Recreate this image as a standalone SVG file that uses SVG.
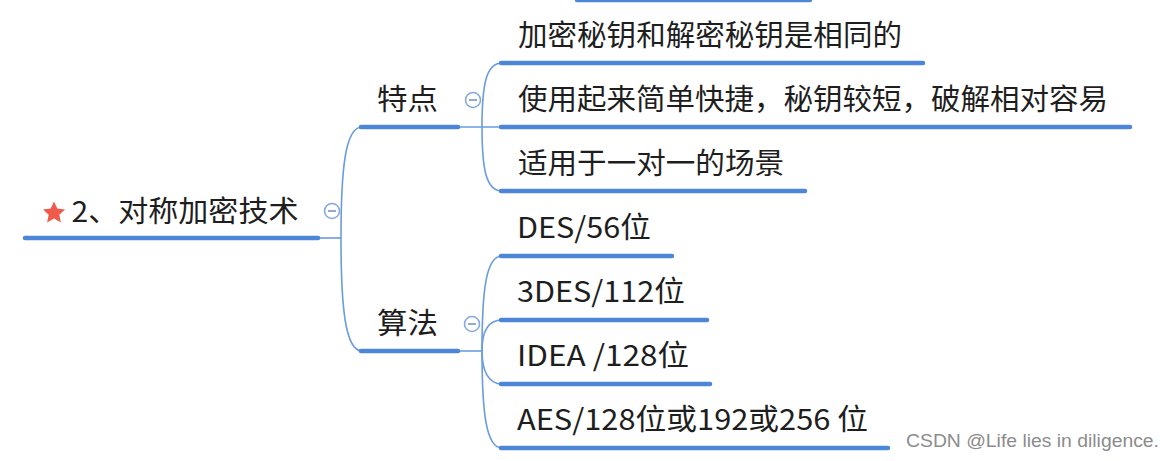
<svg xmlns="http://www.w3.org/2000/svg" width="1174" height="461" viewBox="0 0 1174 461">
  <style>
    .t { font-family: "Noto Sans CJK SC", "Noto Sans", sans-serif; font-size: 29px; fill: #1e1e1e; }
    .ul { stroke: #4d86d6; stroke-width: 4.5; stroke-linecap: round; fill: none; }
    .cn { stroke: #6b9be0; stroke-width: 1.6; fill: none; }
    .col circle { fill: #ffffff; stroke: #86a9e2; stroke-width: 1.6; }
    .col line { stroke: #8aa0c8; stroke-width: 1.8; }
    .wm { font-family: "Liberation Sans", Arial, sans-serif; font-size: 18px; fill: #8c8c8c; }
  </style>
  <rect width="1174" height="461" fill="#ffffff"/>

  <g id="connectors">
    <path class="cn" d="M318,238 L341,238"/>
    <path class="cn" d="M341,238 C341,170 345,127 362,127"/>
    <path class="cn" d="M341,238 C341,306 345,351 362,351"/>
    <path class="cn" d="M458,127 L502,127"/>
    <path class="cn" d="M482,127 C482,85 486,63 502,63"/>
    <path class="cn" d="M482,127 C482,169 486,191 502,191"/>
    <path class="cn" d="M458,351 L482,351"/>
    <path class="cn" d="M482,351 C482,290 486,256 502,256"/>
    <path class="cn" d="M482,351 C482,332 488,320 502,320"/>
    <path class="cn" d="M482,351 C482,370 488,384 502,384"/>
    <path class="cn" d="M482,351 C482,412 486,448 502,448"/>
  </g>

  <g id="prev-node">
    <line class="ul" x1="577" y1="0" x2="810" y2="0"/>
  </g>

  <g id="root">
    <polygon fill="#f05a4b" points="54,201.5 57.3,208.6 65,209.4 59.3,214.7 60.9,222.4 54,218.6 47.1,222.4 48.7,214.7 43,209.4 50.7,208.6"/>
    <text class="t" x="71.5" y="222" textLength="227" lengthAdjust="spacingAndGlyphs">2、对称加密技术</text>
    <line class="ul" x1="25" y1="238" x2="318" y2="238"/>
    <g class="col"><circle cx="332" cy="211" r="7.5"/><line x1="328" y1="211" x2="336" y2="211"/></g>
  </g>

  <g id="node-tedian">
    <text class="t" x="377" y="110" textLength="61" lengthAdjust="spacingAndGlyphs">特点</text>
    <line class="ul" x1="361" y1="127" x2="458" y2="127"/>
    <g class="col"><circle cx="473" cy="100" r="7.5"/><line x1="469" y1="100" x2="477" y2="100"/></g>
  </g>

  <g id="node-t1">
    <text class="t" x="518" y="46" textLength="384" lengthAdjust="spacingAndGlyphs">加密秘钥和解密秘钥是相同的</text>
    <line class="ul" x1="501" y1="63" x2="923" y2="63"/>
  </g>
  <g id="node-t2">
    <text class="t" x="518" y="110" textLength="590" lengthAdjust="spacingAndGlyphs">使用起来简单快捷，秘钥较短，破解相对容易</text>
    <line class="ul" x1="501" y1="127" x2="1130" y2="127"/>
  </g>
  <g id="node-t3">
    <text class="t" x="518" y="174" textLength="266" lengthAdjust="spacingAndGlyphs">适用于一对一的场景</text>
    <line class="ul" x1="501" y1="191" x2="805" y2="191"/>
  </g>

  <g id="node-suanfa">
    <text class="t" x="377" y="334" textLength="61" lengthAdjust="spacingAndGlyphs">算法</text>
    <line class="ul" x1="361" y1="351" x2="458" y2="351"/>
    <g class="col"><circle cx="472" cy="324" r="7.5"/><line x1="468" y1="324" x2="476" y2="324"/></g>
  </g>

  <g id="node-a1">
    <text class="t" x="517" y="238" textLength="134" lengthAdjust="spacingAndGlyphs">DES/56位</text>
    <line class="ul" x1="501" y1="256" x2="672" y2="256"/>
  </g>
  <g id="node-a2">
    <text class="t" x="517" y="302" textLength="168" lengthAdjust="spacingAndGlyphs">3DES/112位</text>
    <line class="ul" x1="501" y1="320" x2="707" y2="320"/>
  </g>
  <g id="node-a3">
    <text class="t" x="517" y="366" textLength="172" lengthAdjust="spacingAndGlyphs">IDEA /128位</text>
    <line class="ul" x1="501" y1="384" x2="710" y2="384"/>
  </g>
  <g id="node-a4">
    <text class="t" x="517" y="430" textLength="351" lengthAdjust="spacingAndGlyphs">AES/128位或192或256 位</text>
    <line class="ul" x1="501" y1="448" x2="888" y2="448"/>
  </g>

  <text class="wm" x="906" y="447" textLength="253" lengthAdjust="spacingAndGlyphs">CSDN @Life lies in diligence.</text>
</svg>
